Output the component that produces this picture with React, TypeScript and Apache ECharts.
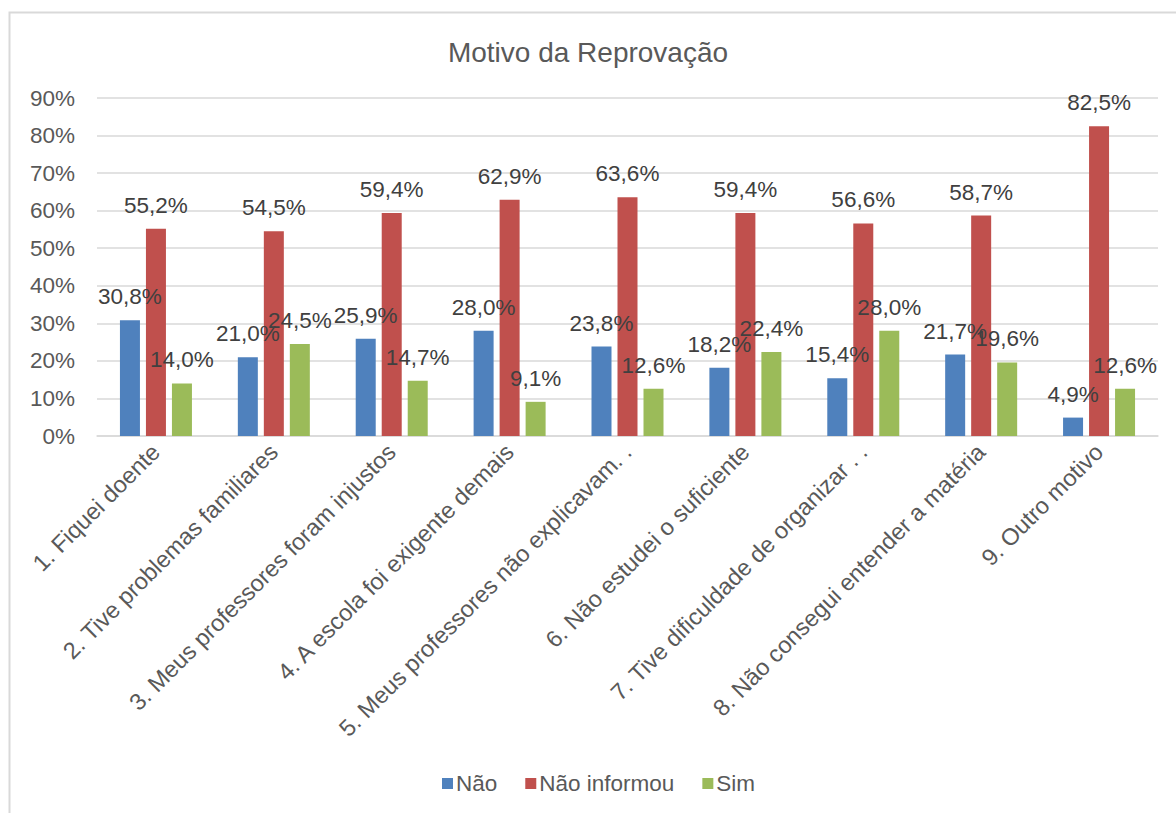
import React, { useEffect, useRef } from "react";
import * as echarts from "echarts";

const categories = [
  "1. Fiquei doente",
  "2. Tive problemas familiares",
  "3. Meus professores foram injustos",
  "4. A escola foi exigente demais",
  "5. Meus professores não explicavam. .",
  "6. Não estudei o suficiente",
  "7. Tive dificuldade de organizar . .",
  "8. Não consegui entender a matéria",
  "9. Outro motivo",
];
const nao = [30.8, 21.0, 25.9, 28.0, 23.8, 18.2, 15.4, 21.7, 4.9];
const naoInformou = [55.2, 54.5, 59.4, 62.9, 63.6, 59.4, 56.6, 58.7, 82.5];
const sim = [14.0, 24.5, 14.7, 9.1, 12.6, 22.4, 28.0, 19.6, 12.6];
const yTicks = [0, 10, 20, 30, 40, 50, 60, 70, 80, 90];

const FONT = "'Liberation Sans', Arial, sans-serif";
const fmt = (v: number) => v.toFixed(1).replace(".", ",") + "%";

export default function App() {
  const ref = useRef<HTMLDivElement>(null);
  useEffect(() => {
    if (!ref.current) return;
    const chart = echarts.init(ref.current, null, { renderer: "svg" });
    const label = {
      show: true,
      position: "top",
      distance: 12,
      fontSize: 22.5,
      fontFamily: FONT,
      color: "#404040",
      formatter: (p: any) => fmt(p.value),
    };
    const mk = (name: string, data: number[], color: string) => ({
      name,
      type: "bar",
      data,
      barWidth: 20,
      barGap: "30%",
      itemStyle: { color },
      label,
    });
    chart.setOption({
      animation: false,
      textStyle: { fontFamily: FONT },
      title: {
        text: "Motivo da Reprovação",
        left: "center",
        top: 33,
        textStyle: { fontSize: 28, fontWeight: "normal", color: "#595959", fontFamily: FONT },
      },
      graphic: [
        {
          type: "rect",
          shape: { x: 9.5, y: 12.5, width: 1300, height: 1000 },
          style: { fill: "none", stroke: "#d9d9d9", lineWidth: 2 },
          silent: true,
        },
      ],
      legend: {
        bottom: 13,
        left: 437,
        itemWidth: 11,
        itemHeight: 11,
        itemGap: 28,
        icon: "rect",
        textStyle: { fontSize: 22.5, color: "#595959", fontFamily: FONT, padding: [0, 0, 0, -2] },
        data: ["Não", "Não informou", "Sim"],
      },
      grid: { left: 97, right: 18, top: 98, bottom: 377, containLabel: false },
      xAxis: {
        type: "category",
        data: categories,
        axisTick: { show: false },
        axisLine: { lineStyle: { color: "#d9d9d9", width: 1.5 } },
        axisLabel: {
          rotate: 45,
          interval: 0,
          fontSize: 23.5,
          color: "#595959",
          fontFamily: FONT,
          margin: 12,
        },
      },
      yAxis: {
        type: "value",
        min: yTicks[0],
        max: yTicks[yTicks.length - 1],
        interval: 10,
        axisLine: { show: false },
        axisTick: { show: false },
        splitLine: { lineStyle: { color: "#d9d9d9", width: 1.5 } },
        axisLabel: {
          fontSize: 22.5,
          color: "#595959",
          fontFamily: FONT,
          margin: 22,
          formatter: (v: number) => v + "%",
        },
      },
      series: [
        mk("Não", nao, "#4f81bd"),
        mk("Não informou", naoInformou, "#c0504d"),
        mk("Sim", sim, "#9bbb59"),
      ],
    });
    return () => chart.dispose();
  }, []);
  return (
    <div
      ref={ref}
      style={{ position: "fixed", left: 0, top: 0, width: 1176, height: 813, background: "#fff" }}
    />
  );
}
